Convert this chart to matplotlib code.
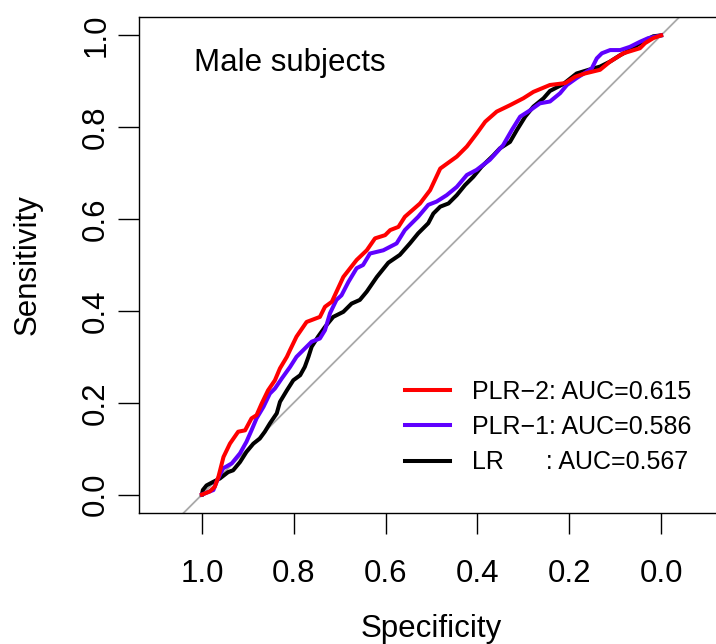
import matplotlib
matplotlib.use("Agg")
import matplotlib.pyplot as plt

plt.rcParams['font.family'] = ['Liberation Sans', 'DejaVu Sans']

# ROC curves (specificity, sensitivity)
plr2_spec = [1.0, 0.983, 0.972, 0.964, 0.953, 0.939, 0.921, 0.906, 0.892, 0.881, 0.870, 0.856, 0.841,
             0.830, 0.815, 0.808, 0.794, 0.772, 0.743, 0.732, 0.717, 0.692, 0.663, 0.641, 0.623, 0.601,
             0.590, 0.572, 0.558, 0.525, 0.503, 0.481, 0.445, 0.423, 0.401, 0.383, 0.358, 0.329, 0.300,
             0.278, 0.242, 0.209, 0.187, 0.166, 0.133, 0.111, 0.082, 0.046, 0.035, 0.017, 0.0]
plr2_sens = [0.0, 0.007, 0.017, 0.039, 0.082, 0.111, 0.137, 0.140, 0.166, 0.173, 0.198, 0.227, 0.249,
             0.275, 0.300, 0.315, 0.344, 0.376, 0.387, 0.409, 0.420, 0.474, 0.511, 0.532, 0.558, 0.565,
             0.576, 0.583, 0.605, 0.634, 0.663, 0.710, 0.736, 0.758, 0.787, 0.812, 0.834, 0.848, 0.863,
             0.877, 0.892, 0.896, 0.910, 0.917, 0.925, 0.943, 0.961, 0.972, 0.983, 0.994, 1.0]

plr1_spec = [1.0, 0.975, 0.968, 0.954, 0.935, 0.917, 0.903, 0.892, 0.881, 0.866, 0.852, 0.841, 0.826,
             0.808, 0.794, 0.779, 0.761, 0.743, 0.732, 0.721, 0.707, 0.696, 0.681, 0.663, 0.649, 0.634,
             0.605, 0.576, 0.558, 0.529, 0.507, 0.489, 0.467, 0.445, 0.423, 0.402, 0.373, 0.344, 0.325,
             0.307, 0.285, 0.264, 0.242, 0.220, 0.205, 0.184, 0.151, 0.140, 0.129, 0.111, 0.089, 0.068,
             0.046, 0.028, 0.0]
plr1_sens = [0.0, 0.010, 0.028, 0.057, 0.068, 0.090, 0.115, 0.140, 0.166, 0.191, 0.220, 0.231, 0.253,
             0.278, 0.300, 0.315, 0.333, 0.340, 0.358, 0.395, 0.424, 0.434, 0.463, 0.493, 0.500, 0.525,
             0.532, 0.547, 0.576, 0.605, 0.631, 0.638, 0.652, 0.670, 0.696, 0.707, 0.729, 0.761, 0.794,
             0.823, 0.837, 0.852, 0.856, 0.874, 0.892, 0.907, 0.928, 0.950, 0.961, 0.968, 0.968, 0.975,
             0.986, 0.994, 1.0]

lr_spec = [1.0, 0.998, 0.990, 0.975, 0.961, 0.943, 0.932, 0.917, 0.903, 0.888, 0.874, 0.863, 0.852,
           0.837, 0.830, 0.815, 0.801, 0.786, 0.776, 0.768, 0.761, 0.747, 0.732, 0.714, 0.692, 0.674,
           0.656, 0.641, 0.619, 0.594, 0.569, 0.547, 0.529, 0.507, 0.496, 0.481, 0.463, 0.445, 0.427,
           0.409, 0.391, 0.365, 0.351, 0.329, 0.314, 0.296, 0.278, 0.256, 0.242, 0.213, 0.184, 0.158,
           0.133, 0.111, 0.089, 0.068, 0.046, 0.017, 0.0]
lr_sens = [0.0, 0.010, 0.020, 0.028, 0.035, 0.049, 0.053, 0.071, 0.093, 0.111, 0.122, 0.137, 0.155,
           0.177, 0.202, 0.227, 0.249, 0.260, 0.278, 0.300, 0.322, 0.344, 0.365, 0.387, 0.398, 0.416,
           0.424, 0.442, 0.474, 0.505, 0.522, 0.547, 0.569, 0.591, 0.612, 0.627, 0.634, 0.652, 0.674,
           0.692, 0.714, 0.739, 0.754, 0.768, 0.794, 0.823, 0.845, 0.863, 0.879, 0.894, 0.917, 0.925,
           0.932, 0.943, 0.957, 0.968, 0.983, 0.998, 1.0]

labels = ["PLR\u22122: AUC=0.615", "PLR\u22121: AUC=0.586", "LR      : AUC=0.567"]
colors = ["#FF0000", "#5F00FF", "#000000"]
ticks = [1.0, 0.8, 0.6, 0.4, 0.2, 0.0]
tick_labels = ["1.0", "0.8", "0.6", "0.4", "0.2", "0.0"]

W, H = 716, 644
fig = plt.figure(figsize=(W / 100, H / 100), dpi=100)
L, R, T, B = 139, 724, 17, 513
ax = fig.add_axes([L / W, 1 - B / H, (R - L) / W, (B - T) / H])
ax.set_xlim(1.137, -0.137)
ax.set_ylim(-0.04, 1.04)

ax.axline((1, 0), (0, 1), color="#A9A9A9", lw=1.3, zorder=1)
ax.plot(lr_spec, lr_sens, color=colors[2], lw=2.9, zorder=2, label=labels[2])
ax.plot(plr1_spec, plr1_sens, color=colors[1], lw=2.9, zorder=3, label=labels[1])
ax.plot(plr2_spec, plr2_sens, color=colors[0], lw=2.9, zorder=4, label=labels[0])

ax.set_xticks(ticks)
ax.set_xticklabels(tick_labels)
ax.set_yticks(ticks)
ax.set_yticklabels(tick_labels)
ax.tick_params(axis='both', direction='out', length=15, width=1.0, labelsize=22.5)
ax.tick_params(axis='x', pad=18)
ax.tick_params(axis='y', pad=5, labelrotation=90)
for lbl in ax.get_yticklabels():
    lbl.set_va('center')
for sp in ax.spines.values():
    sp.set_linewidth(1.0)

ax.set_xlabel("Specificity", fontsize=22.5)
ax.set_ylabel("Sensitivity", fontsize=22.5)
ax.xaxis.set_label_coords(0.5, -(629 - B) / (B - T))
ax.xaxis.label.set_va('center')
ax.yaxis.set_label_coords((28 - L) / (R - L), 0.5)
ax.yaxis.label.set_va('center')

ax.text(0.808, 0.94, "Male subjects", fontsize=22.5, ha='center', va='center')

handles, labs = ax.get_legend_handles_labels()
order = [2, 1, 0]
ax.legend([handles[i] for i in order], [labs[i] for i in order],
          loc='center left', bbox_to_anchor=(405 / W, 1 - 427 / H),
          bbox_transform=fig.transFigure, frameon=False, fontsize=18,
          handlelength=1.8, handletextpad=0.9, labelspacing=0.45,
          borderpad=0, borderaxespad=0)

fig.savefig("out.png", dpi=100)
